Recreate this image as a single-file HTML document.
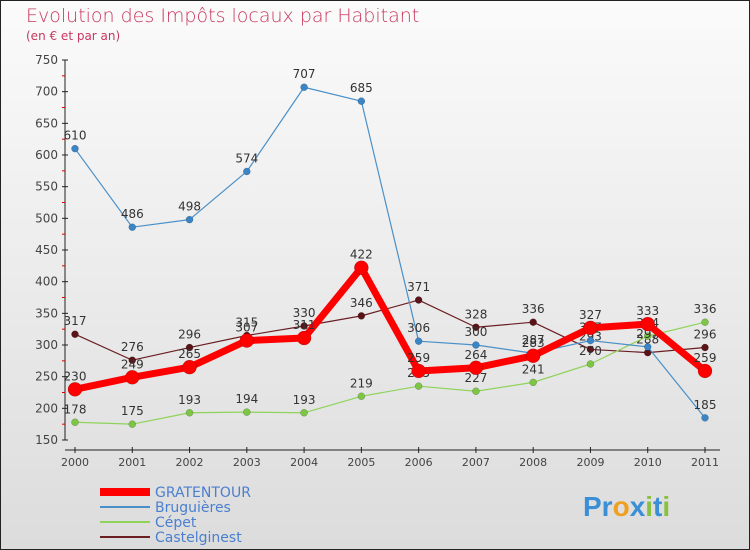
<!DOCTYPE html>
<html><head><meta charset="utf-8"><style>
body{margin:0;}
#c{width:750px;height:550px;position:relative;overflow:hidden;background:linear-gradient(#fbfbfb,#dcdcdc);font-family:"DejaVu Sans","Liberation Sans",sans-serif;}
</style></head><body>
<div id="c">
<svg id="s" width="750" height="550" xmlns="http://www.w3.org/2000/svg">
<rect x="0.5" y="0.5" width="749" height="549" fill="none" stroke="#222"/>
<text x="26" y="22" font-size="19" fill="#c8385e" font-family="DejaVu Sans, sans-serif" font-weight="200">Evolution des Impôts locaux par Habitant</text>
<text x="26" y="40" font-size="12" fill="#c8385e">(en € et par an)</text>
<g id="axes"></g><g id="series"></g><g id="legend"></g>
<text x="583" y="516" font-size="28" font-weight="bold" font-family="Liberation Sans, sans-serif"><tspan fill="#3a8fd6">Pr</tspan><tspan fill="#f0a020">o</tspan><tspan fill="#3a8fd6">x</tspan><tspan fill="#88c040">i</tspan><tspan fill="#3a8fd6">t</tspan><tspan fill="#88c040">i</tspan></text>
</svg>
</div>
<script>
const years=["2000","2001","2002","2003","2004","2005","2006","2007","2008","2009","2010","2011"];
const yTicks=[150,200,250,300,350,400,450,500,550,600,650,700,750];
const seriesNames=["GRATENTOUR","Bruguières","Cépet","Castelginest"];
const gratentour=[230,249,265,307,311,422,259,264,283,327,333,259];
const bruguieres=[610,486,498,574,707,685,306,300,287,307,297,185];
const cepet=[178,175,193,194,193,219,235,227,241,270,314,336];
const castelginest=[317,276,296,315,330,346,371,328,336,293,288,296];

const NS="http://www.w3.org/2000/svg";
const x0=75,x1=705,yTop=60,yBot=440,vMin=150,vMax=750;
const X=i=>x0+i*(x1-x0)/(years.length-1);
const Y=v=>yBot-(v-vMin)*(yBot-yTop)/(vMax-vMin);
function mk(t,a,p){const e=document.createElementNS(NS,t);for(const k in a)e.setAttribute(k,a[k]);p.appendChild(e);return e;}
const ax=document.getElementById('axes');
let l=mk('line',{x1:65,y1:yTop,x2:65,y2:yBot,stroke:'#222'},ax);


l=mk('line',{x1:65,y1:yBot+10,x2:720,y2:yBot+10,stroke:'#222'},ax);


yTicks.forEach((v,i)=>{
  mk('line',{x1:62,y1:Y(v),x2:68,y2:Y(v),stroke:'#222'},ax);
  if(i<yTicks.length-1) mk('line',{x1:62,y1:Y(v+25),x2:65,y2:Y(v+25),stroke:'#d00'},ax);
  const t=mk('text',{x:58,y:Y(v)+4,'font-size':12,fill:'#444','text-anchor':'end'},ax);
  t.textContent=v;
  
  
});
years.forEach((y,i)=>{
  mk('line',{x1:X(i),y1:yBot+7,x2:X(i),y2:yBot+13,stroke:'#222'},ax);
  const t=mk('text',{x:X(i),y:yBot+26,'font-size':11,fill:'#444','text-anchor':'middle'},ax);
  t.textContent=y;
  
  
});
const sg=document.getElementById('series');
const defs=[
 [castelginest,'#6a1f24',1.2,3.5,'#5a1418','castelginest'],
 [cepet,'#8fd35a',1.2,3.5,'#7cc545','cepet'],
 [bruguieres,'#4a90c8',1.2,3.5,'#3a85c5','bruguieres'],
 [gratentour,'#ff0000',7,7,'#ff0000','gratentour']];
defs.forEach(d=>{
  const [vals,col,w,r,fill,nm]=d;
  const g=mk('g',{},sg);
  
  
  const p=mk('polyline',{points:vals.map((v,i)=>X(i)+','+Y(v)).join(' '),fill:'none',stroke:col,'stroke-width':w,'stroke-linejoin':'round'},g);
  
  
  vals.forEach((v,i)=>{
    const c=mk('circle',{cx:X(i),cy:Y(v),r:r,fill:fill,stroke:'rgba(0,0,0,0.3)','stroke-width':0.5},g);
    
    
    const t=mk('text',{x:X(i),y:Y(v)-9,'font-size':12,fill:'#333','text-anchor':'middle'},g);
    t.textContent=v;
    
    
  });
});
const lg=document.getElementById('legend');
const lcols=['#ff0000','#4a90c8','#8fd35a','#6a1f24'],lw=[8,2,2,2];
seriesNames.forEach((n,i)=>{
  const y=492+i*15;
  const g=mk('g',{},lg);
  
  
  mk('line',{x1:100,y1:y,x2:150,y2:y,stroke:lcols[i],'stroke-width':lw[i]},g);
  const t=mk('text',{x:155,y:y+5,'font-size':14,fill:'#4a7fd0'},g);
  t.textContent=n;
});
</script>
</body></html>
